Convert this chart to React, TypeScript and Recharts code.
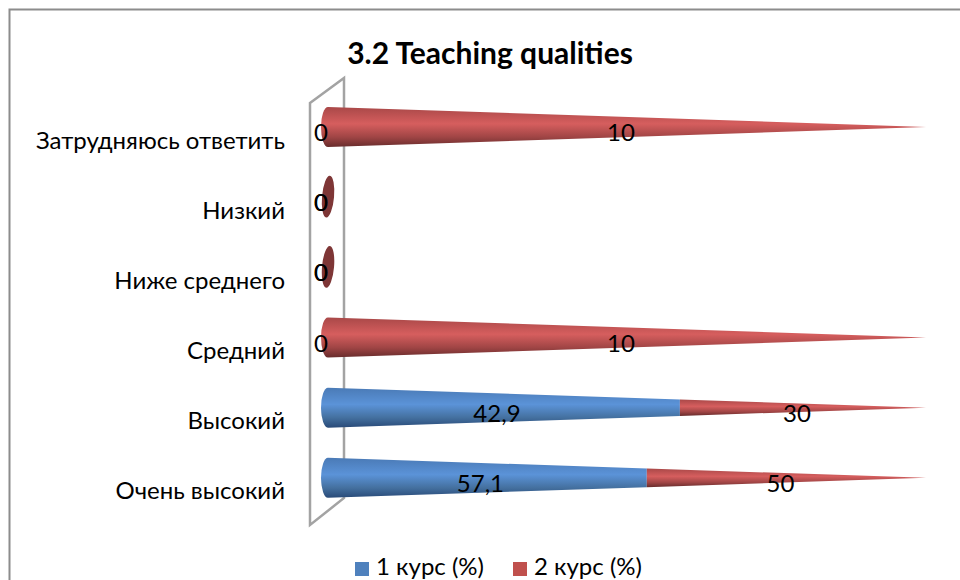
import React from "react";
import { BarChart, Bar, XAxis, YAxis, Legend, LabelList } from "recharts";

const categories = ["Затрудняюсь ответить", "Низкий", "Ниже среднего", "Средний", "Высокий", "Очень высокий"];
const course1 = [0, 0, 0, 0, 42.9, 57.1];
const course2 = [10, 0, 0, 10, 30, 50];
const rows = categories.map((name, i) => ({ name, course1: course1[i], course2: course2[i] }));

const FONT = "Lato, Carlito, 'Open Sans', sans-serif";
const W = 960;
const H = 580;
const LEFT = 328;
const TIP = 926;
const LEN = TIP - LEFT;
const TOP = 92;

function fmt(v: number) {
  return String(v).replace(".", ",");
}

function Cone(props: any) {
  const { x, y, width, height, fill, payload, series } = props;
  const R = height / 2;
  const cy = y + R;
  const rAt = (px: number) => Math.max(0, R * (1 - (px - LEFT) / LEN));
  const total = payload.course1 + payload.course2;
  if (total === 0) {
    if (series !== 2) return null;
    return (
      <ellipse cx={LEFT} cy={cy - 0.5} rx={6} ry={21} fill="#7e3636" transform={`rotate(5 ${LEFT} ${cy})`} />
    );
  }
  if (width <= 0) return null;
  const x1 = x;
  const x2 = x + width;
  const r1 = rAt(x1);
  const r2 = rAt(x2);
  const startsAtBase = Math.abs(x1 - LEFT) < 0.5;
  const left = startsAtBase
    ? `A 7 ${r1} 0 0 1 ${x1} ${cy - r1}`
    : `L ${x1} ${cy - r1}`;
  const d = `M ${x1} ${cy - r1} L ${x2} ${cy - r2} L ${x2} ${cy + r2} L ${x1} ${cy + r1} ${left} Z`;
  return <path d={d} fill={fill} />;
}

function Blue(props: any) {
  return <Cone {...props} fill="url(#coneBlue)" series={1} />;
}
function Red(props: any) {
  return <Cone {...props} fill="url(#coneRed)" series={2} />;
}

function ValueText({ cx, cy, text }: { cx: number; cy: number; text: string }) {
  return (
    <text x={cx} y={cy} textAnchor="middle" dominantBaseline="central" fontFamily={FONT} fontSize={24} fill="#000">
      {text}
    </text>
  );
}

function BlueLabel(props: any) {
  const { x, y, height, value } = props;
  const cy = y + height / 2 + 4.5;
  const cx = value === 0 ? LEFT - 7 : (LEFT + x) / 2 - 7;
  return <ValueText cx={cx} cy={cy} text={fmt(value)} />;
}

function RedLabel(props: any) {
  const { x, y, width, height, value } = props;
  const cy = y + height / 2 + 4.5;
  const cx = value === 0 ? LEFT - 7 : x + width / 2 - 6;
  return <ValueText cx={cx} cy={cy} text={fmt(value)} />;
}

function CategoryTick(props: any) {
  const { x, y, payload } = props;
  return (
    <text x={x} y={y + 12} textAnchor="end" dominantBaseline="central" fontFamily={FONT} fontSize={24} fill="#000">
      {payload.value}
    </text>
  );
}

export default function App() {
  return (
    <div style={{ position: "absolute", left: 0, top: 0, width: W, height: H, background: "#fff", overflow: "hidden" }}>
      <BarChart
        width={W}
        height={H}
        data={rows}
        layout="vertical"
        stackOffset="expand"
        barSize={40}
        margin={{ top: TOP, right: W - TIP, bottom: 38, left: 28 }}
      >
        <defs>
          <linearGradient id="coneBlue" x1="0" y1="0" x2="0" y2="1">
            <stop offset="0" stopColor="#4a7ab6" />
            <stop offset="0.42" stopColor="#5b93d8" />
            <stop offset="0.75" stopColor="#44709f" />
            <stop offset="1" stopColor="#294a78" />
          </linearGradient>
          <linearGradient id="coneRed" x1="0" y1="0" x2="0" y2="1">
            <stop offset="0" stopColor="#a94848" />
            <stop offset="0.42" stopColor="#d65e5e" />
            <stop offset="0.75" stopColor="#a04545" />
            <stop offset="1" stopColor="#682c2c" />
          </linearGradient>
        </defs>
        <rect x={9.5} y={9.5} width={1000} height={640} fill="#fff" stroke="#8c8c8c" strokeWidth={2} />
        <polygon points="310,103 344,78 344,498 310,525" fill="none" stroke="#a3a3a3" strokeWidth={2.5} />
        <text x={490} y={52} textAnchor="middle" dominantBaseline="central" fontFamily={FONT} fontSize={30} fontWeight={700} fill="#000">
          3.2 Teaching qualities
        </text>
        <XAxis type="number" hide domain={[0, 1]} />
        <YAxis
          type="category"
          dataKey="name"
          width={300}
          axisLine={false}
          tickLine={false}
          tickSize={0}
          tickMargin={43}
          interval={0}
          tick={CategoryTick}
        />
        <Legend
          iconType="square"
          iconSize={14}
          wrapperStyle={{ fontFamily: FONT, fontSize: 24, color: "#000", bottom: 0, left: 64 }}
          formatter={(v: string) => <span style={{ color: "#000", marginLeft: 3, marginRight: 19 }}>{v}</span>}
        />
        <Bar dataKey="course1" name="1 курс (%)" stackId="a" fill="#4f81bd" shape={Blue} isAnimationActive={false} />
        <Bar dataKey="course2" name="2 курс (%)" stackId="a" fill="#c0504d" shape={Red} isAnimationActive={false}>
          <LabelList dataKey="course1" content={BlueLabel} />
          <LabelList dataKey="course2" content={RedLabel} />
        </Bar>
      </BarChart>
    </div>
  );
}
